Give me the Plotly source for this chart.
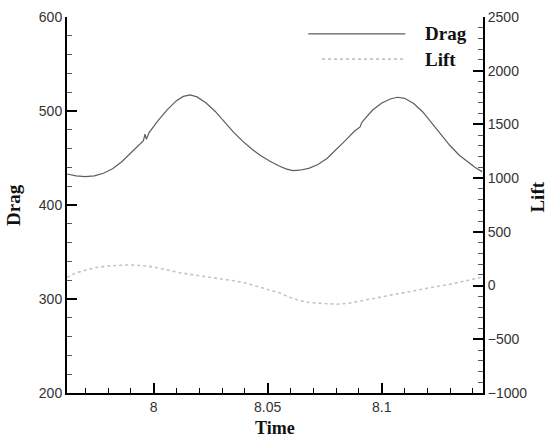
import plotly.graph_objects as go

# ---- data ----
drag_time = [7.962, 7.966, 7.970, 7.974, 7.978, 7.982, 7.986, 7.990, 7.994,
             7.9955, 7.9962, 7.9968, 7.998, 8.002, 8.006, 8.010, 8.013, 8.016,
             8.019, 8.023, 8.027, 8.031, 8.035, 8.039, 8.043, 8.047, 8.051,
             8.055, 8.058, 8.061, 8.064, 8.068, 8.072, 8.076, 8.080, 8.084,
             8.088, 8.0905, 8.0912, 8.092, 8.096, 8.100, 8.104, 8.107, 8.110,
             8.114, 8.118, 8.122, 8.126, 8.130, 8.134, 8.138, 8.141, 8.144]
drag_vals = [433.0, 431.0, 430.2, 431.0, 433.8, 438.5, 446.0, 455.5, 466.0,
             468.5, 475.5, 470.0, 477.0, 490.0, 501.5, 511.0, 515.5, 517.2,
             515.0, 508.5, 499.5, 488.5, 477.5, 468.0, 459.5, 452.5, 446.5,
             441.5, 438.5, 436.5, 437.0, 439.0, 443.0, 449.5, 458.5, 468.5,
             478.5, 483.0, 487.5, 490.0, 501.0, 508.5, 513.0, 514.6, 513.5,
             508.0, 499.0, 487.0, 474.5, 463.0, 453.0, 445.0, 440.0, 435.5]

lift_time = [7.962, 7.966, 7.9708, 7.975, 7.9795, 7.984, 7.988, 7.992, 7.997,
             8.0015, 8.0058, 8.011, 8.0175, 8.023, 8.0291, 8.035, 8.0408,
             8.045, 8.0496, 8.0554, 8.0598, 8.064, 8.0686, 8.0745, 8.0803,
             8.085, 8.089, 8.095, 8.1007, 8.108, 8.1153, 8.1225, 8.1299,
             8.1387, 8.1444]
lift_vals = [77, 118, 148, 168, 182, 190, 192, 190, 182,
             166, 146, 122, 99, 83, 68, 45, 21,
             -5, -34, -70, -110, -140, -159, -170, -174,
             -166, -150, -125, -97, -68, -41, -15, 12,
             55, 80]

x_range = [7.962, 8.1444]
drag_range = [200, 600]
lift_range = [-1000, 2500]
x_ticks = [8, 8.05, 8.1]
x_ticklabels = ["8", "8.05", "8.1"]
series_names = ["Drag", "Lift"]

TICK_FONT = dict(family="Liberation Sans, Arial, sans-serif", size=14, color="#333333")
TITLE_FONT = dict(family="Liberation Serif, Times New Roman, serif", size=19, color="#111111")

fig = go.Figure()
fig.add_trace(go.Scatter(x=drag_time, y=drag_vals, mode="lines", name=series_names[0],
                         line=dict(color="#625a60", width=1.2), showlegend=False))
fig.add_trace(go.Scatter(x=lift_time, y=lift_vals, mode="lines", name=series_names[1],
                         yaxis="y2", line=dict(color="#c4c4c4", width=1.6, dash="dot"),
                         showlegend=False))

axis_common = dict(showline=True, linecolor="black", linewidth=2, ticks="inside",
                   ticklen=10, tickwidth=2, tickcolor="black", showgrid=False,
                   zeroline=False, tickfont=TICK_FONT, automargin=False)

fig.update_layout(
    width=547, height=439,
    margin=dict(l=67, r=64, t=17, b=46, autoexpand=False),
    paper_bgcolor="white", plot_bgcolor="white",
    xaxis=dict(range=x_range, tickvals=x_ticks, ticktext=x_ticklabels,
               minor=dict(dtick=0.01, tick0=8, ticks="inside", ticklen=5,
                          tickwidth=1, tickcolor="black"),
               **axis_common),
    yaxis=dict(range=drag_range, dtick=100,
               minor=dict(dtick=20, ticks="inside", ticklen=5, tickwidth=1,
                          tickcolor="#555555"),
               **axis_common),
    yaxis2=dict(range=lift_range, dtick=500, overlaying="y", side="right",
                minor=dict(dtick=100, ticks="inside", ticklen=5, tickwidth=1,
                           tickcolor="#555555"),
                **axis_common),
)

# axis titles
fig.add_annotation(text="<b>Drag</b>", xref="paper", yref="paper", x=-0.13, y=0.5,
                   textangle=-90, showarrow=False, font=TITLE_FONT,
                   xanchor="center", yanchor="middle")
fig.add_annotation(text="<b>Lift</b>", xref="paper", yref="paper", x=1.13, y=0.52,
                   textangle=-90, showarrow=False, font=TITLE_FONT,
                   xanchor="center", yanchor="middle")
fig.add_annotation(text="<b>Time</b>", xref="paper", yref="paper", x=0.5, y=-0.092,
                   showarrow=False, font=dict(TITLE_FONT, size=18),
                   xanchor="center", yanchor="middle")

# legend drawn as sample lines + labels
fig.add_shape(type="line", xref="paper", yref="paper", x0=0.58, x1=0.813,
              y0=0.955, y1=0.955, line=dict(color="#625a60", width=1.3))
fig.add_shape(type="line", xref="paper", yref="paper", x0=0.613, x1=0.813,
              y0=0.888, y1=0.888, line=dict(color="#c4c4c4", width=1.6, dash="dot"))
fig.add_annotation(text="<b>" + series_names[0] + "</b>", xref="paper", yref="paper",
                   x=0.855, y=0.955, showarrow=False, font=TITLE_FONT,
                   xanchor="left", yanchor="middle")
fig.add_annotation(text="<b>" + series_names[1] + "</b>", xref="paper", yref="paper",
                   x=0.855, y=0.888, showarrow=False, font=TITLE_FONT,
                   xanchor="left", yanchor="middle")

fig.write_html("out.html", config={"displayModeBar": False},
               post_script="document.body.style.margin='0px';document.body.style.overflow='hidden';")
